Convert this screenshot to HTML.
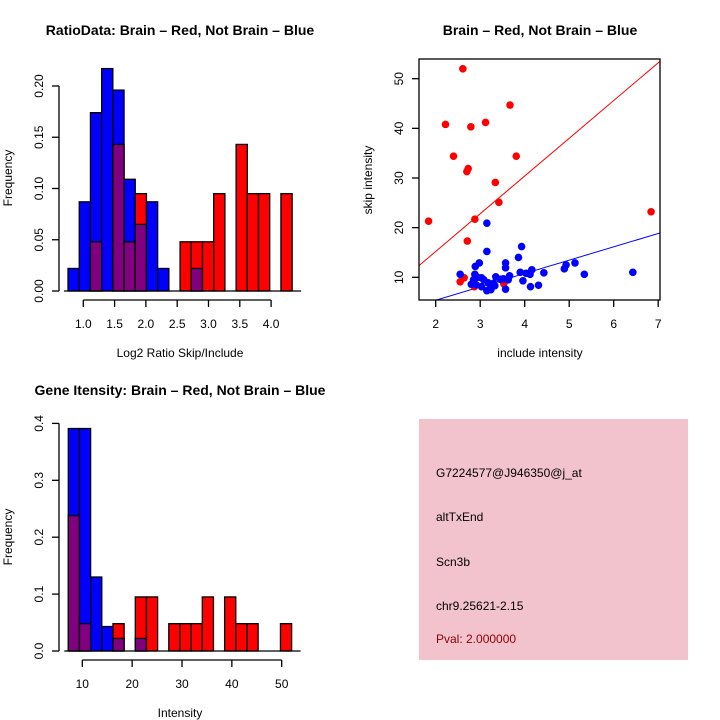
<!DOCTYPE html>
<html><head><meta charset="utf-8"><style>
body{margin:0;background:#fff}
svg{display:block;font-family:"Liberation Sans",sans-serif}
</style></head><body>
<svg id="c" width="720" height="720" viewBox="0 0 720 720"></svg>
<script>
// Histogram 1 data (Log2 ratio)
const h1Blue=[0.022,0.087,0.174,0.217,0.196,0.109,0.065,0.087,0.022,0,0,0.022,0,0,0,0,0,0,0,0];
const h1Red=[0,0,0.048,0,0.143,0.048,0.095,0,0,0,0.048,0.048,0.048,0.095,0,0.143,0.095,0.095,0,0.095];
const h1XTicks=["1.0","1.5","2.0","2.5","3.0","3.5","4.0"];
const h1YTicks=["0.00","0.05","0.10","0.15","0.20"];
// Histogram 2 data (Intensity)
const h2Blue=[0.391,0.391,0.130,0.043,0.022,0,0.022,0,0,0,0,0,0,0,0,0,0,0,0,0];
const h2Red=[0.238,0.048,0,0,0.048,0,0.095,0.095,0,0.048,0.048,0.048,0.095,0,0.095,0.048,0.048,0,0,0.048];
const h2XTicks=["10","20","30","40","50"];
const h2YTicks=["0.0","0.1","0.2","0.3","0.4"];
// Scatter data
const redX=[2.61,2.22,2.79,3.12,3.67,2.40,3.81,2.73,2.70,3.34,3.42,1.84,2.88,2.71,6.84,2.55,2.64,2.87,3.53];
const redY=[52.0,40.8,40.3,41.2,44.7,34.4,34.4,31.9,31.3,29.1,25.1,21.3,21.7,17.3,23.2,9.1,9.9,8.1,8.7];
const blueX=[2.55,2.89,2.98,2.88,2.85,2.80,2.91,2.94,3.03,3.08,3.15,3.15,3.15,3.18,3.24,3.30,3.35,3.45,3.52,3.57,3.57,3.57,3.63,3.66,3.86,3.93,3.90,3.96,4.03,4.12,4.16,4.13,4.31,4.43,4.89,4.93,5.13,5.34,6.43,3.24,3.33,3.03];
const blueY=[10.6,12.2,12.9,10.6,9.5,8.6,8.5,10.0,9.9,9.5,20.9,15.2,7.3,8.9,8.1,8.8,10.1,9.6,9.7,12.9,11.9,7.6,9.5,10.3,14.0,16.2,11.0,9.3,10.8,10.6,11.5,8.1,8.4,10.9,11.7,12.5,12.9,10.6,11.0,7.5,8.3,8.1];
const sXTicks=[2,3,4,5,6,7];
const sYTicks=[10,20,30,40,50];
const redSlope=7.6, blueSlope=2.69;

const svg=document.getElementById('c');
const NS='http://www.w3.org/2000/svg';
function el(tag,attrs,parent){const e=document.createElementNS(NS,tag);for(const k in attrs)e.setAttribute(k,attrs[k]);(parent||svg).appendChild(e);return e;}
function txt(s,x,y,opts,parent){const t=el('text',Object.assign({x:x,y:y,'font-size':12,'text-anchor':'middle',fill:'#000'},opts||{}),parent);t.textContent=s;return t;}

function hist(cfg){
  const g=el('g',{});
  
  
  const xs=v=>cfg.x0px+(v-cfg.x0v)*cfg.xk;
  const ys=v=>cfg.y0px-v*cfg.yk;
  const n=cfg.blue.length;
  for(let i=0;i<n;i++){
    const a=cfg.start+i*cfg.bw,b=a+cfg.bw;
    const X=xs(a),W=xs(b)-xs(a);
    const bl=cfg.blue[i],rd=cfg.red[i],mn=Math.min(bl,rd),mx=Math.max(bl,rd);
    if(mx>0){
      const top=bl>=rd?'#0000ff':'#ff0000';
      const r=el('rect',{x:X,y:ys(mx),width:W,height:ys(0)-ys(mx),fill:top,stroke:'#000','stroke-width':1.3},g);
      
      
      if(mn>0){
        const p=el('rect',{x:X,y:ys(mn),width:W,height:ys(0)-ys(mn),fill:'#800080',stroke:'#000','stroke-width':1.3},g);
        
        
      }
    }
  }
  el('line',{x1:xs(cfg.start)-4,x2:xs(cfg.start+n*cfg.bw)+9,y1:ys(0),y2:ys(0),stroke:'#000','stroke-width':1.3},g);
  // y axis
  const yv=cfg.yTicks.map(Number);
  el('line',{x1:59,x2:59,y1:ys(yv[0]),y2:ys(yv[yv.length-1]),stroke:'#000','stroke-width':1.3},g);
  cfg.yTicks.forEach(s=>{const y=ys(Number(s));el('line',{x1:52,x2:59,y1:y,y2:y,stroke:'#000','stroke-width':1.3},g);
    txt(s,40,y,{transform:`rotate(-90 40 ${y})`,'dominant-baseline':'middle'},g);});
  const xv=cfg.xTicks.map(Number);
  el('line',{x1:xs(xv[0]),x2:xs(xv[xv.length-1]),y1:cfg.axY,y2:cfg.axY,stroke:'#000','stroke-width':1.3},g);
  cfg.xTicks.forEach(s=>{const x=xs(Number(s));el('line',{x1:x,x2:x,y1:cfg.axY,y2:cfg.axY+7,stroke:'#000','stroke-width':1.3},g);
    txt(s,x,cfg.axY+28,{},g);});
  txt(cfg.xlab,cfg.xlabX,cfg.xlabY,{},g);
  const yl=txt('Frequency',12,cfg.ylabY,{transform:`rotate(-90 12 ${cfg.ylabY})`},g);
  
  const t=txt(cfg.title,cfg.titleX,cfg.titleY,{'font-weight':'bold','font-size':14},g);
  
}
hist({name:'ratio-histogram',blue:h1Blue,red:h1Red,xTicks:h1XTicks,yTicks:h1YTicks,x0v:1,x0px:83.3,xk:62.6,y0px:291,yk:1025,start:0.756,bw:0.179,axY:300,
  xlab:'Log2 Ratio Skip/Include',xlabX:180,xlabY:357,ylabY:178,title:'RatioData: Brain – Red, Not Brain – Blue',titleX:180,titleY:35});
hist({name:'intensity-histogram',blue:h2Blue,red:h2Red,xTicks:h2XTicks,yTicks:h2YTicks,x0v:10,x0px:82.3,xk:4.985,y0px:651,yk:569,start:7.19,bw:2.24,axY:660,
  xlab:'Intensity',xlabX:180,xlabY:717,ylabY:537,title:'Gene Itensity: Brain – Red, Not Brain – Blue',titleX:180,titleY:395});

// Scatter
(function(){
  const g=el('g',{});
  
  
  const L=419,R=660,T=59,B=300;
  const xs=v=>435.7+(v-2)*44.5, ys=v=>277.3-(v-10)*4.965;
  const xi=v=>2+(v-435.7)/44.5;
  const cp=el('clipPath',{id:'sc'},g);el('rect',{x:L,y:T,width:R-L,height:B-T},cp);
  const lg=el('g',{'clip-path':'url(#sc)'},g);
  const rl=el('line',{x1:L,y1:ys(redSlope*xi(L)),x2:R,y2:ys(redSlope*xi(R)),stroke:'#ff0000','stroke-width':1},lg);
  
  
  const bln=el('line',{x1:L,y1:ys(blueSlope*xi(L)),x2:R,y2:ys(blueSlope*xi(R)),stroke:'#0000ff','stroke-width':1},lg);
  
  
  redX.forEach((x,i)=>{const c=el('circle',{cx:xs(x),cy:ys(redY[i]),r:3.8,fill:'#ff0000'},lg);
    
    });
  blueX.forEach((x,i)=>{const c=el('circle',{cx:xs(x),cy:ys(blueY[i]),r:3.8,fill:'#0000ff'},lg);
    
    });
  el('rect',{x:L,y:T,width:R-L,height:B-T,fill:'none',stroke:'#000','stroke-width':1.3},g);
  sXTicks.forEach(v=>{const x=xs(v);el('line',{x1:x,x2:x,y1:B,y2:B+7,stroke:'#000','stroke-width':1.3},g);txt(String(v),x,B+28,{},g);});
  sYTicks.forEach(v=>{const y=ys(v);el('line',{x1:L-7,x2:L,y1:y,y2:y,stroke:'#000','stroke-width':1.3},g);
    txt(String(v),400,y,{transform:`rotate(-90 400 ${y})`,'dominant-baseline':'middle'},g);});
  txt('include intensity',540,357,{},g);
  txt('skip intensity',372,180,{transform:'rotate(-90 372 180)'},g);
  txt('Brain – Red, Not Brain – Blue',540,35,{'font-weight':'bold','font-size':14},g);
})();

// Info box
(function(){
  const g=el('g',{});
  
  
  el('rect',{x:419,y:419,width:269,height:241,fill:'#f3c3cd'},g);
  const lines=[['G7224577@J946350@j_at',477,'#000','probe-id'],['altTxEnd',521,'#000','event-type'],['Scn3b',566,'#000','gene-name'],['chr9.25621-2.15',610,'#000','location'],['Pval: 2.000000',643,'#8b0000','p-value']];
  lines.forEach(l=>{const t=txt(l[0],436,l[1],{'text-anchor':'start',fill:l[2]},g);});
})();
</script>
</body></html>
